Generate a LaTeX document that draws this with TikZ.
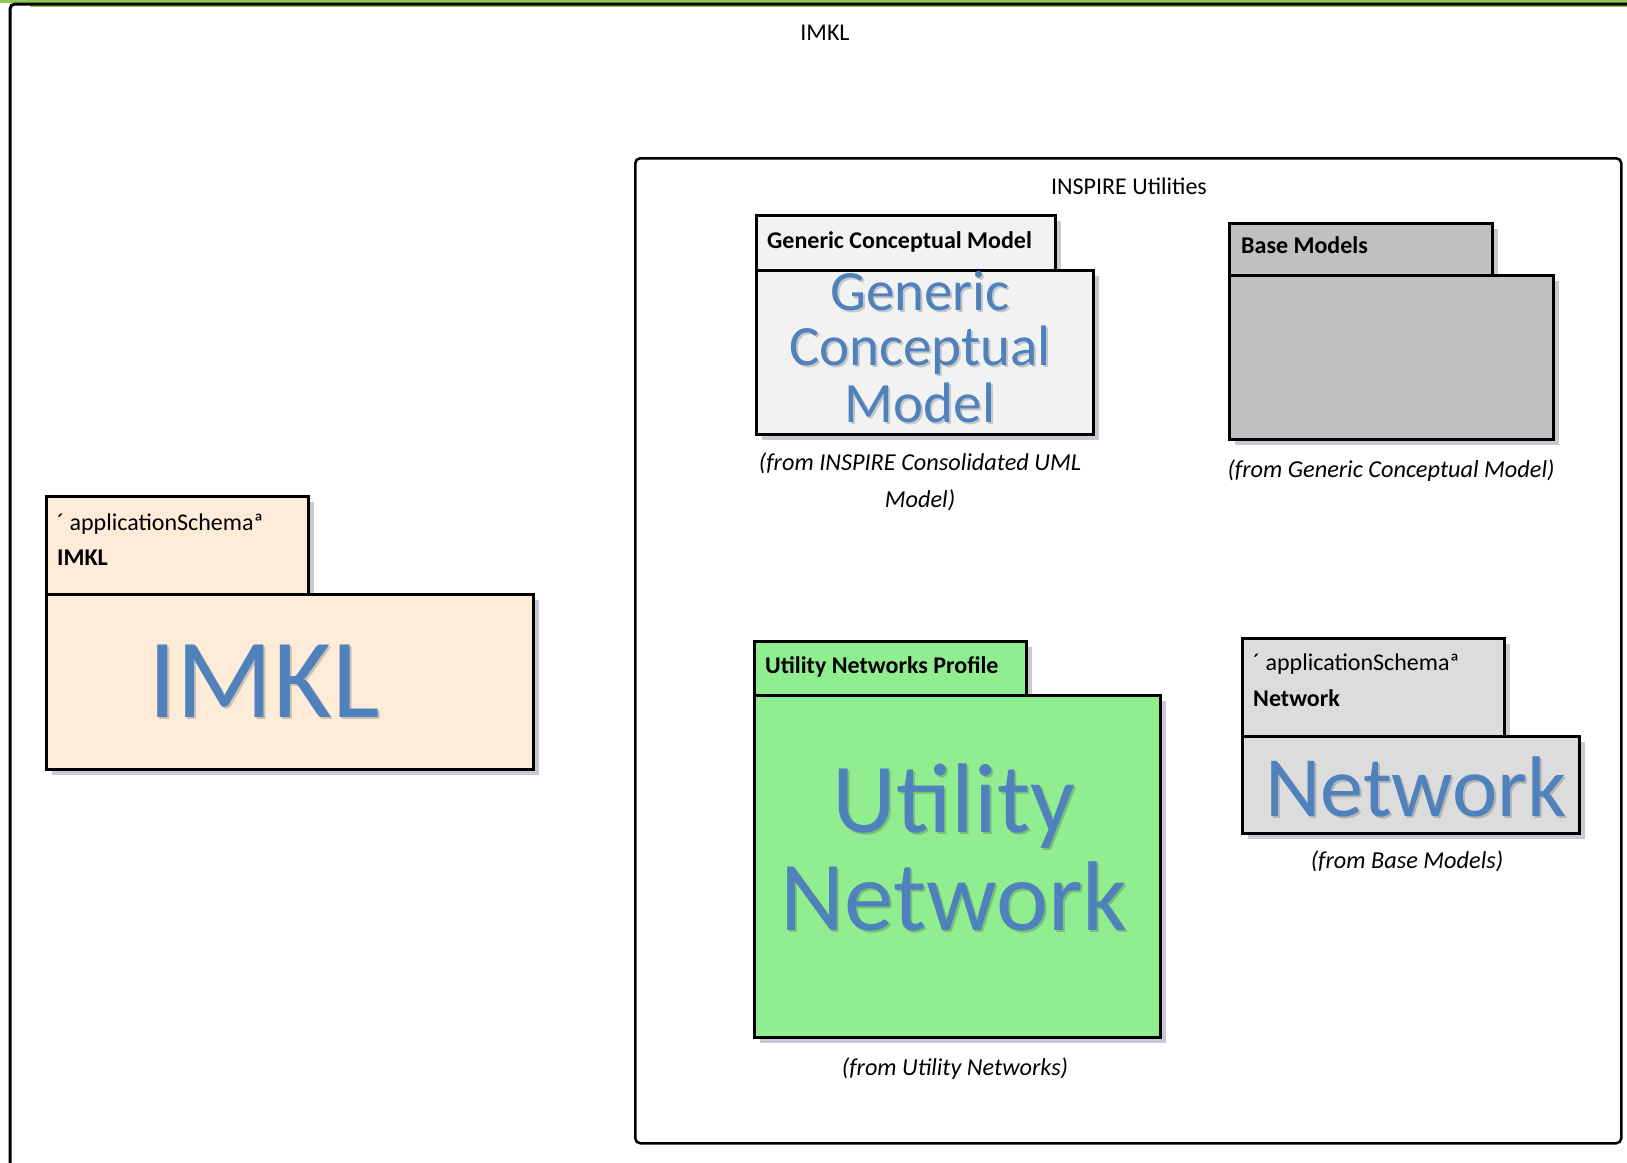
\documentclass[tikz,border=0pt]{standalone}
\usepackage{fontspec}
\setmainfont{Carlito}
\usetikzlibrary{shadows}
\definecolor{peach}{HTML}{FEEBD8}
\definecolor{gcmfill}{HTML}{F2F2F2}
\definecolor{basefill}{HTML}{C0C0C0}
\definecolor{netfill}{HTML}{DCDCDC}
\definecolor{utilfill}{HTML}{90EE90}
\definecolor{bigblue}{HTML}{4F81BD}
\definecolor{shadowc}{HTML}{C9C9D1}
\definecolor{topgreen}{HTML}{8CCB52}
\newcommand{\pkgbox}[8]{%
  \node[pkgshape, fill=#8, minimum width={#4-#2}, minimum height={#5-#3}] (#1tab) at (#2,#3) {};
  \node[pkgshape, fill=#8, minimum width={#6-#2}, minimum height={#7-#5}] (#1body) at (#2,#5) {};}
\newcommand{\bigtxt}[5]{%
  \node[bigshadow, font=\fontsize{#4}{#4}\selectfont] at (#2+2,#3+2) {#5};
  \node[bigword, font=\fontsize{#4}{#4}\selectfont] (#1) at (#2,#3) {#5};}
\begin{document}
\begin{tikzpicture}[x=1pt,y=-1pt,
  pkgshape/.style={draw, line width=2.5pt, rectangle, anchor=north west, inner sep=0pt,
    general shadow={fill=shadowc, shadow xshift=6pt, shadow yshift=-6pt}},
  bigword/.style={text=bigblue, anchor=base, inner sep=0pt},
  bigshadow/.style={text=black, opacity=0.18, anchor=base, inner sep=0pt},
  tablabel/.style={font=\fontsize{24}{28}\selectfont\bfseries, anchor=base west, inner sep=0pt},
  stereo/.style={font=\fontsize{24}{28}\selectfont, anchor=base west, inner sep=0pt},
  caption/.style={font=\fontsize{24.3}{28}\selectfont\itshape, anchor=base, inner sep=0pt},
  frametitle/.style={font=\fontsize{24}{28}\selectfont, anchor=center, inner sep=0pt}]
\useasboundingbox (0,0) rectangle (1627,1162);
% outer frame
\fill[topgreen] (0,0) rectangle (1627,3);
\fill[topgreen] (30,5) rectangle (1627,7);
\coordinate (outerbl) at (10,1170);
\coordinate (outertr) at (1640,4);
\draw[line width=3pt, rounded corners=5pt] (outerbl) |- (outertr);
\node[frametitle] (imkltitle) at (825,33) {IMKL};
% INSPIRE Utilities frame
\node[draw, line width=2.5pt, rounded corners=5pt, anchor=north west, minimum width=986, minimum height=985, inner sep=0pt] (inspire) at (634,157) {};
\node[frametitle] (inspiretitle) at (1129,186) {INSPIRE Utilities};
% IMKL package
\pkgbox{imkl}{45}{495}{307}{593}{532}{768}{peach}
\node[stereo] (imklstereo) at (57,530) {´ applicationSchemaª};
\node[tablabel] (imklname) at (57,565) {IMKL};
\bigtxt{imklbig}{264}{717}{113}{IMKL}
% Generic Conceptual Model package
\pkgbox{gcm}{755}{214}{1054}{269}{1092}{433}{gcmfill}
\node[tablabel] (gcmname) at (767,248) {Generic Conceptual Model};
\bigtxt{gcmbiga}{920}{310}{57}{Generic}
\bigtxt{gcmbigb}{920}{365}{57}{Conceptual}
\bigtxt{gcmbigc}{920}{422}{57}{Model}
\node[caption] (gcmfroma) at (920,470) {(from INSPIRE Consolidated UML};
\node[caption] (gcmfromb) at (920,507) {Model)};
% Base Models package
\pkgbox{base}{1228}{222}{1491}{274}{1552}{438}{basefill}
\node[tablabel] (basename) at (1241,253) {Base Models};
\node[caption] (basefrom) at (1391,477) {(from Generic Conceptual Model)};
% Utility Networks Profile package
\pkgbox{util}{753}{640}{1025}{694}{1159}{1036}{utilfill}
\node[tablabel] (utilname) at (765,673) {Utility Networks Profile};
\bigtxt{utilbiga}{954}{832}{99}{Utility}
\bigtxt{utilbigb}{954}{930}{99}{Network}
\node[caption] (utilfrom) at (955,1075) {(from Utility Networks)};
% Network package
\pkgbox{net}{1241}{637}{1503}{735}{1578}{832}{netfill}
\node[stereo] (netstereo) at (1253,670) {´ applicationSchemaª};
\node[tablabel] (netname) at (1253,706) {Network};
\bigtxt{netbig}{1416}{816}{86}{Network}
\node[caption] (netfrom) at (1407,868) {(from Base Models)};
\end{tikzpicture}
\end{document}
